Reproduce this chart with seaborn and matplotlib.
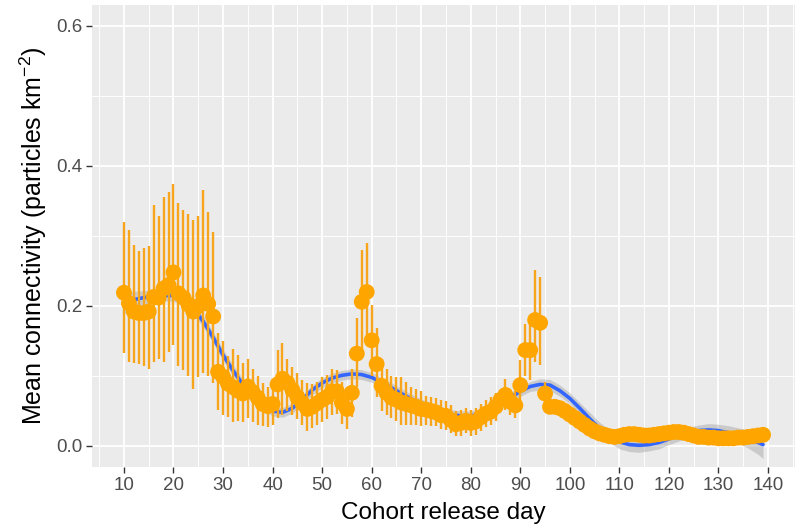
import numpy as np
import pandas as pd
import matplotlib
matplotlib.use("Agg")
import matplotlib.pyplot as plt
import seaborn as sns

# ---------------- data ----------------
days = list(range(10, 140))

mean_conn = [
    0.219, 0.204, 0.192, 0.190, 0.190, 0.192, 0.213, 0.212, 0.225, 0.230,   # 10-19
    0.248, 0.218, 0.212, 0.202, 0.192, 0.200, 0.215, 0.203, 0.185, 0.106,   # 20-29
    0.099, 0.089, 0.084, 0.079, 0.075, 0.085, 0.077, 0.069, 0.060, 0.057,   # 30-39
    0.060, 0.088, 0.096, 0.090, 0.080, 0.070, 0.061, 0.053, 0.056, 0.061,   # 40-49
    0.066, 0.070, 0.078, 0.078, 0.062, 0.053, 0.076, 0.132, 0.206, 0.220,   # 50-59
    0.151, 0.117, 0.086, 0.076, 0.069, 0.066, 0.062, 0.060, 0.058, 0.056,   # 60-69
    0.053, 0.052, 0.050, 0.048, 0.044, 0.043, 0.037, 0.031, 0.033, 0.036,   # 70-79
    0.033, 0.035, 0.041, 0.046, 0.049, 0.056, 0.066, 0.073, 0.063, 0.058,   # 80-89
    0.087, 0.137, 0.137, 0.180, 0.176, 0.075, 0.056, 0.056, 0.054, 0.050,   # 90-99
    0.045, 0.040, 0.035, 0.030, 0.025, 0.021, 0.018, 0.016, 0.014, 0.013,   # 100-109
    0.014, 0.016, 0.017, 0.017, 0.016, 0.015, 0.015, 0.016, 0.017, 0.018,   # 110-119
    0.019, 0.020, 0.020, 0.019, 0.017, 0.015, 0.013, 0.013, 0.012, 0.012,   # 120-129
    0.011, 0.011, 0.011, 0.011, 0.012, 0.012, 0.013, 0.014, 0.015, 0.016,   # 130-139
]

err_upper = [
    0.320, 0.309, 0.287, 0.278, 0.283, 0.286, 0.344, 0.328, 0.356, 0.363,
    0.375, 0.347, 0.337, 0.332, 0.323, 0.328, 0.366, 0.335, 0.306, 0.161,
    0.150, 0.128, 0.139, 0.130, 0.118, 0.125, 0.110, 0.100, 0.090, 0.085,
    0.095, 0.137, 0.147, 0.125, 0.113, 0.104, 0.095, 0.090, 0.088, 0.092,
    0.098, 0.102, 0.110, 0.108, 0.092, 0.085, 0.110, 0.183, 0.280, 0.290,
    0.201, 0.168, 0.125, 0.110, 0.100, 0.098, 0.099, 0.092, 0.085, 0.082,
    0.078, 0.072, 0.070, 0.068, 0.066, 0.064, 0.058, 0.050, 0.052, 0.055,
    0.052, 0.055, 0.060, 0.066, 0.070, 0.076, 0.080, 0.096, 0.082, 0.078,
    0.123, 0.175, 0.187, 0.251, 0.242, 0.092, 0.066, 0.066, 0.064, 0.059,
    0.053, 0.047, 0.041, 0.036, 0.030, 0.025, 0.022, 0.020, 0.018, 0.017,
    0.018, 0.020, 0.021, 0.021, 0.020, 0.019, 0.019, 0.020, 0.021, 0.022,
    0.023, 0.024, 0.024, 0.023, 0.021, 0.019, 0.017, 0.017, 0.016, 0.016,
    0.015, 0.015, 0.015, 0.015, 0.016, 0.016, 0.017, 0.018, 0.019, 0.020,
]

err_lower = [
    0.133, 0.120, 0.118, 0.117, 0.115, 0.110, 0.120, 0.125, 0.120, 0.135,
    0.145, 0.115, 0.108, 0.100, 0.082, 0.099, 0.104, 0.100, 0.090, 0.051,
    0.045, 0.042, 0.035, 0.036, 0.034, 0.040, 0.035, 0.030, 0.028, 0.027,
    0.030, 0.040, 0.045, 0.050, 0.045, 0.038, 0.030, 0.022, 0.026, 0.030,
    0.035, 0.038, 0.045, 0.046, 0.032, 0.025, 0.042, 0.085, 0.130, 0.150,
    0.100, 0.070, 0.050, 0.045, 0.040, 0.036, 0.030, 0.030, 0.030, 0.030,
    0.028, 0.030, 0.028, 0.028, 0.025, 0.023, 0.018, 0.014, 0.015, 0.018,
    0.015, 0.016, 0.022, 0.027, 0.030, 0.036, 0.050, 0.052, 0.045, 0.040,
    0.055, 0.100, 0.095, 0.120, 0.116, 0.058, 0.046, 0.046, 0.044, 0.041,
    0.037, 0.033, 0.029, 0.024, 0.020, 0.017, 0.014, 0.012, 0.010, 0.009,
    0.010, 0.012, 0.013, 0.013, 0.012, 0.011, 0.011, 0.012, 0.013, 0.014,
    0.015, 0.016, 0.016, 0.015, 0.013, 0.011, 0.009, 0.009, 0.008, 0.008,
    0.007, 0.007, 0.007, 0.007, 0.008, 0.008, 0.009, 0.010, 0.011, 0.012,
]

# smoother
smooth_days = [10, 12, 14, 16, 18, 20, 22, 24, 26, 28, 30, 32, 34, 36, 38, 40,
               42, 44, 46, 48, 50, 52, 54, 56, 58, 60, 62, 64, 66, 68, 70, 72,
               74, 76, 78, 80, 82, 84, 86, 88, 90, 92, 94, 96, 98, 100, 102,
               104, 106, 108, 110, 112, 114, 116, 118, 120, 122, 124, 126,
               128, 130, 132, 134, 136, 138, 139]
smooth_fit = [0.205, 0.209, 0.212, 0.214, 0.215, 0.215, 0.208, 0.196, 0.178,
              0.155, 0.130, 0.108, 0.088, 0.072, 0.058, 0.050, 0.048, 0.054,
              0.066, 0.080, 0.090, 0.097, 0.101, 0.103, 0.102, 0.098, 0.091,
              0.083, 0.075, 0.067, 0.060, 0.054, 0.049, 0.045, 0.043, 0.043,
              0.046, 0.052, 0.060, 0.069, 0.078, 0.085, 0.088, 0.087, 0.079,
              0.068, 0.054, 0.039, 0.025, 0.014, 0.006, 0.002, 0.001, 0.002,
              0.005, 0.010, 0.015, 0.019, 0.022, 0.023, 0.022, 0.019, 0.015,
              0.010, 0.005, 0.002]
smooth_ci = [0.016, 0.012, 0.010, 0.009, 0.008, 0.008, 0.008, 0.008, 0.008,
             0.008, 0.008, 0.008, 0.008, 0.008, 0.007, 0.007, 0.007, 0.007,
             0.007, 0.007, 0.007, 0.007, 0.007, 0.007, 0.007, 0.007, 0.007,
             0.007, 0.007, 0.007, 0.007, 0.007, 0.007, 0.007, 0.007, 0.007,
             0.007, 0.007, 0.007, 0.007, 0.007, 0.007, 0.008, 0.008, 0.008,
             0.008, 0.008, 0.009, 0.009, 0.009, 0.010, 0.010, 0.010, 0.009,
             0.009, 0.008, 0.008, 0.008, 0.008, 0.009, 0.009, 0.010, 0.011,
             0.013, 0.017, 0.020]

x_ticks = [10, 20, 30, 40, 50, 60, 70, 80, 90, 100, 110, 120, 130, 140]
y_ticks = [0.0, 0.2, 0.4, 0.6]
y_tick_labels = ["0.0", "0.2", "0.4", "0.6"]

df = pd.DataFrame({"day": days, "mean": mean_conn,
                   "lo": err_lower, "hi": err_upper})
sm = pd.DataFrame({"day": smooth_days, "fit": smooth_fit, "ci": smooth_ci})

# ---------------- style ----------------
sns.set_theme(style="darkgrid")
plt.rcParams["font.family"] = ["Liberation Sans", "DejaVu Sans"]
plt.rcParams["mathtext.fontset"] = "custom"
plt.rcParams["mathtext.rm"] = "Liberation Sans"
plt.rcParams["mathtext.it"] = "Liberation Sans:italic"

fig = plt.figure(figsize=(7.95, 5.29), dpi=100)
ax = fig.add_axes([92 / 795, 62 / 529, 703 / 795, 462 / 529])
ax.set_facecolor("#EBEBEB")

orange = "#FFA500"

# CI band + smooth line
ax.fill_between(sm["day"], sm["fit"] - sm["ci"], sm["fit"] + sm["ci"],
                color="#999999", alpha=0.4, linewidth=0, zorder=2)
sns.lineplot(data=sm, x="day", y="fit", ax=ax, color="#3366FF",
             linewidth=2.6, zorder=3)

# error bars
ax.vlines(df["day"], df["lo"], df["hi"], color="#F7A51C", linewidth=1.7, zorder=4)

# points
sns.scatterplot(data=df, x="day", y="mean", ax=ax, color=orange, s=130,
                edgecolor="none", linewidth=0, zorder=5)

# axes
ax.set_xlim(3.55, 145.45)
ax.set_ylim(-0.03, 0.63)
ax.set_xticks(x_ticks)
ax.set_xticks([5, 15, 25, 35, 45, 55, 65, 75, 85, 95, 105, 115, 125, 135, 145], minor=True)
ax.set_yticks(y_ticks)
ax.set_yticklabels(y_tick_labels)
ax.set_yticks([0.1, 0.3, 0.5], minor=True)

ax.grid(which="major", color="white", linewidth=1.3)
ax.grid(which="minor", color="white", linewidth=0.65)
ax.set_axisbelow(True)
for s in ax.spines.values():
    s.set_visible(False)

ax.tick_params(axis="both", which="major", length=4, width=1.0, color="#333333",
               labelsize=13.5, labelcolor="#4D4D4D", pad=3, direction="out",
               bottom=True, left=True)
ax.tick_params(axis="both", which="minor", length=0)

ax.set_xlabel("Cohort release day", fontsize=17.5, color="black", labelpad=6)
ax.set_ylabel("Mean connectivity (particles km$^{-2}$)", fontsize=18,
              color="black", labelpad=5)

fig.savefig("out.png", dpi=100)
